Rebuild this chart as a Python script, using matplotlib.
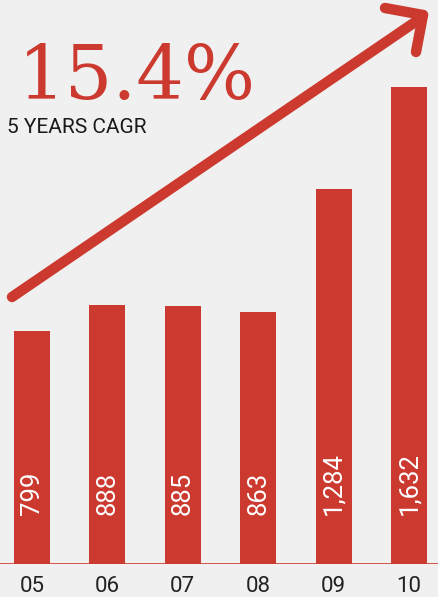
import matplotlib.pyplot as plt
import numpy as np

years = ["05", "06", "07", "08", "09", "10"]
revenue = [799, 888, 885, 863, 1284, 1632]
value_labels = ["799", "888", "885", "863", "1,284", "1,632"]
cagr_text = "15.4%"
cagr_caption = "5 YEARS CAGR"

red = '#cc3a2f'
bg = '#f0f0f0'
W, H = 438, 597

fig = plt.figure(figsize=(W / 100, H / 100), dpi=100)
fig.patch.set_facecolor(bg)

# bar axes: baseline at y=564px
ax = fig.add_axes([0, (H - 564) / H, 1, 564 / H])
ax.set_facecolor(bg)
x = np.arange(len(years))
ax.bar(x, revenue, width=0.477, color=red, zorder=2)
ax.set_xlim(-0.424, 5.385)
ax.set_ylim(0, 1931)
for s in ax.spines.values():
    s.set_visible(False)
ax.set_yticks([])
ax.set_xticks([])
ax.axhline(0, color=red, linewidth=1.2, zorder=3)

for xi, lab in zip(x, value_labels):
    ax.text(xi, 168, lab, rotation=90, ha='center', va='bottom', color='white',
            fontsize=18.5, family='Roboto', zorder=4)

for xi, yr in zip(x, years):
    fig.text((32 + xi * 75.4) / W, 1 - 586 / H, yr, ha='center', va='center',
             fontsize=16, family='Roboto', color='#222222')

# overlay in pixel coordinates for headline + arrow
ov = fig.add_axes([0, 0, 1, 1])
ov.set_xlim(0, W)
ov.set_ylim(H, 0)
ov.axis('off')
ov.patch.set_alpha(0)

ov.text(18, 99, cagr_text, fontsize=54, family='DejaVu Serif', color=red,
        ha='left', va='baseline')
ov.text(7, 133, cagr_caption, fontsize=15, family='Roboto', color='#1a1a1a',
        ha='left', va='baseline')

lw = 7.5
ov.plot([12, 421], [297, 18], color=red, linewidth=lw, solid_capstyle='round')
ov.plot([385, 423], [8, 15], color=red, linewidth=lw, solid_capstyle='round')
ov.plot([423, 416], [15, 52], color=red, linewidth=lw, solid_capstyle='round')

plt.savefig('out.png', dpi=100, facecolor=bg)
